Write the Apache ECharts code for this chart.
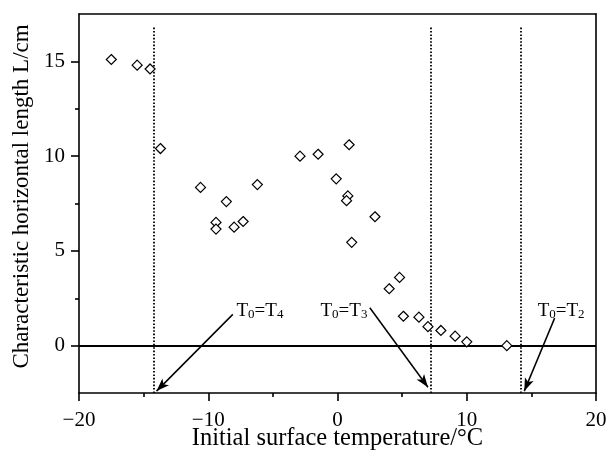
<!DOCTYPE html>
<html>
<head>
<meta charset="utf-8">
<script src="https://cdn.jsdelivr.net/npm/echarts@6/dist/echarts.min.js"></script>
<style>
html,body{margin:0;padding:0;background:#fff;}
#chart{width:610px;height:451px;}
</style>
</head>
<body>
<div id="chart"></div>
<script>
// Measured points: initial surface temperature (°C) vs characteristic horizontal length L (cm)
var tempC = [-17.5, -15.5, -14.5, -13.7, -10.6, -6.2, -8.6, -9.4, -9.4, -8.0, -7.3, -2.9, -1.5, 0.9, -0.1, 0.8, 0.7, 2.9, 1.1, 4.0, 4.8, 5.1, 6.3, 7.0, 8.0, 9.1, 10.0, 13.1];
var lengthCm = [15.1, 14.8, 14.6, 10.4, 8.35, 8.5, 7.6, 6.5, 6.15, 6.25, 6.55, 10.0, 10.1, 10.6, 8.8, 7.9, 7.65, 6.8, 5.45, 3.0, 3.6, 1.55, 1.5, 1.0, 0.8, 0.5, 0.2, 0.0];

// Critical temperatures (dotted vertical lines)
var critTemps = [-14.2, 7.2, 14.2];
var critTop = 16.8;

// Annotations
var annoNames = ['T4', 'T3', 'T2'];
var annoX = [-6.0, 0.5, 17.3];
var annoY = [1.9, 1.9, 1.9];
var arrowStartX = [-8.1, 2.5, 16.8];
var arrowStartY = [1.65, 2.0, 1.45];
var arrowEndX = [-14.0, 7.0, 14.45];
var arrowEndY = [-2.4, -2.2, -2.4];

// Axis ticks
var xMin = -20, xMax = 20, xStep = 10;
var yMin = -2.5, yMax = 17.5;
var yMajor = [0, 5, 10, 15];
var yMinor = [2.5, 7.5, 12.5];

var FONT = '"Liberation Serif", "DejaVu Serif", serif';

var points = tempC.map(function (t, i) { return [t, lengthCm[i]]; });

var markLines = [];
critTemps.forEach(function (t) {
  markLines.push([
    { coord: [t, yMin], symbol: 'none', lineStyle: { type: [1.6, 1.8], width: 1.8, color: '#000' } },
    { coord: [t, critTop], symbol: 'none' }
  ]);
});
arrowStartX.forEach(function (sx, i) {
  markLines.push([
    { coord: [sx, arrowStartY[i]], symbol: 'none', lineStyle: { type: 'solid', width: 1.5, color: '#000' } },
    { coord: [arrowEndX[i], arrowEndY[i]], symbol: 'arrow', symbolSize: [7, 13] }
  ]);
});

var annoData = annoNames.map(function (n, i) {
  return {
    value: [annoX[i], annoY[i]],
    label: {
      formatter: '{a|T}{s|0}{a|=T}{s|' + n.slice(1) + '}'
    }
  };
});

var chart = echarts.init(document.getElementById('chart'), null, { renderer: 'canvas' });
chart.setOption({
  animation: false,
  backgroundColor: '#fff',
  grid: { left: 79, right: 14, top: 14, bottom: 58, show: false, containLabel: false, outerBoundsMode: 'none' },
  xAxis: [{
    type: 'value', min: xMin, max: xMax, interval: xStep, position: 'bottom',
    axisLine: { show: true, onZero: false, lineStyle: { color: '#000', width: 1.6 } },
    axisTick: { show: true, inside: false, length: 8, lineStyle: { color: '#000', width: 1.6 } },
    minorTick: { show: true, splitNumber: 2, length: 4, lineStyle: { color: '#000', width: 1.6 } },
    splitLine: { show: false },
    axisLabel: {
      color: '#000', fontSize: 21, fontFamily: FONT, margin: 17,
      formatter: function (v) { return String(v).replace('-', '\u2212'); }
    },
    name: 'Initial surface temperature/\u00B0C', nameLocation: 'middle', nameGap: 33,
    nameMoveOverlap: false,
    nameTextStyle: { color: '#000', fontSize: 24.5, fontFamily: FONT }
  }, {
    type: 'value', min: xMin, max: xMax, position: 'top',
    axisLine: { show: true, onZero: false, lineStyle: { color: '#000', width: 1.6 } },
    axisTick: { show: false }, axisLabel: { show: false }, splitLine: { show: false }
  }],
  yAxis: [{
    type: 'value', min: yMin, max: yMax, position: 'left',
    axisLine: { show: true, onZero: false, lineStyle: { color: '#000', width: 1.6 } },
    axisTick: { show: true, length: 8, customValues: yMajor, lineStyle: { color: '#000', width: 1.6 } },
    splitLine: { show: false },
    axisLabel: {
      color: '#000', fontSize: 21, fontFamily: FONT, margin: 14, customValues: yMajor
    },
    name: 'Characteristic horizontal length L/cm', nameLocation: 'middle', nameGap: 46,
    nameTextStyle: { color: '#000', fontSize: 23, fontFamily: FONT, padding: [0, 0, 0, 14] }
  }, {
    type: 'value', min: yMin, max: yMax, position: 'left',
    axisLine: { show: false, onZero: false },
    axisTick: { show: true, length: 4, customValues: yMinor, lineStyle: { color: '#000', width: 1.6 } },
    axisLabel: { show: false }, splitLine: { show: false }
  }, {
    type: 'value', min: yMin, max: yMax, position: 'right',
    axisLine: { show: true, onZero: false, lineStyle: { color: '#000', width: 1.6 } },
    axisTick: { show: false }, axisLabel: { show: false }, splitLine: { show: false }
  }],
  series: [{
    type: 'scatter',
    name: 'lines',
    data: [],
    silent: true,
    markLine: {
      silent: true,
      animation: false,
      symbol: ['none', 'none'],
      label: { show: false },
      emphasis: { disabled: true },
      data: [[{ yAxis: 0, x: 79 }, { yAxis: 0, x: 596 }]],
      lineStyle: { color: '#000', width: 2.2, type: 'solid' }
    },
    z: 1
  }, {
    type: 'scatter',
    name: 'annotations',
    data: [],
    silent: true,
    markLine: {
      silent: true,
      animation: false,
      label: { show: false },
      emphasis: { disabled: true },
      data: markLines
    },
    z: 2
  }, {
    type: 'scatter',
    name: 'labels',
    data: annoData,
    symbolSize: 0,
    silent: true,
    itemStyle: { opacity: 1 },
    label: {
      show: true, position: 'inside', color: '#000', fontFamily: FONT, opacity: 1,
      rich: {
        a: { fontSize: 19, fontFamily: FONT, color: '#000', lineHeight: 22, verticalAlign: 'bottom' },
        s: { fontSize: 13, fontFamily: FONT, color: '#000', lineHeight: 12, verticalAlign: 'bottom' }
      }
    },
    z: 3
  }, {
    type: 'scatter',
    name: 'L',
    data: points,
    symbol: 'diamond',
    symbolSize: [10, 10],
    itemStyle: { color: '#fff', borderColor: '#000', borderWidth: 1.2, opacity: 1 },
    z: 5
  }]
});
</script>
</body>
</html>
